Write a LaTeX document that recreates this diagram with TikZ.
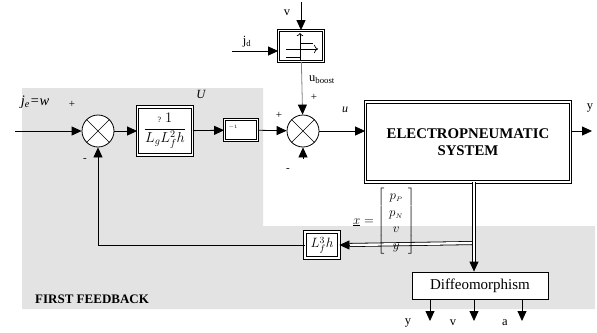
\RequirePackage{fix-cm}
\documentclass[tikz,border=0pt]{standalone}
\usepackage{fontspec}
\setmainfont{Liberation Serif}
\usetikzlibrary{arrows.meta}

\tikzset{
  block/.style={draw, double, double distance=1.8pt, line width=0.8pt, fill=white, inner sep=0pt},
  sumnode/.style={circle, draw, line width=0.8pt, fill=white, minimum size=32pt, inner sep=0pt},
  arr/.style={-{Triangle[length=10pt,width=9pt]}, line width=0.8pt},
  grayarr/.style={-{Triangle[length=10pt,width=9pt,black]}, line width=0.8pt, draw=gray},
  dbl/.style={double, double distance=2.4pt, line width=0.8pt},
  lbl/.style={inner sep=0pt, font=\fontsize{12.5}{14}\selectfont},
  sign/.style={inner sep=0pt, font=\fontsize{11}{13}\selectfont},
}

\begin{document}
\begin{tikzpicture}[x=1pt, y=-1pt]
        \useasboundingbox (0,0) rectangle (597,332);
        % Background
        \fill[gray!22] (22,88) -- (263,88) -- (263,226) -- (595,226) -- (595,309) -- (22,309) -- cycle;

        % Nodes
        \node (sum1) [sumnode] at (98,131) {};
        \node (fracblk) [block, minimum width=55pt, minimum height=48pt, font=\fontsize{14.5}{16}\selectfont] at (165,131) {$\displaystyle\frac{\mbox{\footnotesize ?}\;1}{L_{g}L_{f}^{2}h}$};
        \node (invblk) [block, minimum width=33pt, minimum height=21pt] at (241,130) {};
        \node (invexp) [inner sep=0pt, font=\tiny] at (233,127) {$-1$};
        \node (sum2) [sumnode] at (303,131) {};
        \node (relay) [block, minimum width=45pt, minimum height=31pt] at (301,46) {};
        \node (eps) [block, minimum width=205pt, minimum height=80pt, align=center, font=\fontsize{14.8}{17}\selectfont\bfseries] at (468,142) {ELECTROPNEUMATIC\\SYSTEM};
        \node (fbk) [block, minimum width=34pt, minimum height=26pt, font=\fontsize{13.5}{15}\selectfont] at (322,245) {$L_{f}^{3}h$\hspace{9pt}};
        \node (diffeo) [draw, line width=0.8pt, fill=white, minimum width=136pt, minimum height=27pt, font=\fontsize{15}{17}\selectfont] at (480,285.5) {Diffeomorphism};

        \coordinate (in) at (15,131);
        \coordinate (out) at (592,131);
        \coordinate (vin) at (301,2);
        \coordinate (jdin) at (232,51);
        \coordinate (minus2) at (303,159);
        \coordinate (split) at (474,243);
        \coordinate (oy) at (430,321);
        \coordinate (ov) at (474,321);
        \coordinate (oa) at (522,321);

        % Labels
        \node (je) [inner sep=0pt, font=\fontsize{14.5}{16}\selectfont\itshape] at (35,102) {j\textsubscript{e}=w};
        \node (p1) [sign] at (72,104) {+};
        \node (m1) [sign] at (85,160) {-};
        \node (ulab) [inner sep=0pt, font=\fontsize{12.5}{14}\selectfont\itshape] at (201,94) {U};
        \node (p2) [sign] at (279,115) {+};
        \node (m2) [sign] at (288,170) {-};
        \node (vlab) [lbl] at (287,13) {v};
        \node (jdlab) [lbl] at (247,42) {j\textsubscript{d}};
        \node (ublab) [lbl, anchor=west] at (309,80) {u\textsubscript{boost}};
        \node (p3) [sign] at (314,97) {+};
        \node (uin) [inner sep=0pt, font=\fontsize{12}{14}\selectfont\itshape] at (345,110) {u};
        \node (ylab) [lbl] at (590,108) {y};
        \node (first) [anchor=west, inner sep=0pt, font=\fontsize{13}{15}\selectfont\bfseries] at (35,299) {FIRST FEEDBACK};
        \node (yout) [lbl] at (408,323) {y};
        \node (vout) [lbl] at (453,323) {v};
        \node (aout) [lbl] at (505,323) {a};

        % Edges
        \draw[arr] (in) -- (sum1);
        \draw[arr] (sum1) -- (fracblk);
        \draw[arr] (fracblk) -- (invblk);
        \draw[arr] (invblk) -- (sum2);
        \draw[arr] (sum2) -- (sum2 -| eps.west);
        \draw[arr] (sum2 -| eps.east) -- (out);
        \draw[arr] (vin) -- (relay);
        \draw[arr] (jdin) -- (jdin -| relay.west);
        \draw[grayarr] (relay) -- (sum2);
        \draw[arr] (minus2) -- (sum2);
        \draw[arr] (fbk) -| (sum1);
        \draw (sum1.north west) -- (sum1.south east) (sum1.north east) -- (sum1.south west);
        \draw (sum2.north west) -- (sum2.south east) (sum2.north east) -- (sum2.south west);

        % State vector
        \draw[dbl] (split) -- ([xshift=10pt]fbk.east);
        \draw[arr] ([xshift=10pt]fbk.east) -- (fbk.east);
        \draw[dbl] (eps.south -| split) -- ([yshift=10pt]diffeo.north -| split);
        \draw[arr] ([yshift=10pt]diffeo.north -| split) -- (diffeo.north -| split);
        \node (xvec) [anchor=west, inner sep=0pt, font=\fontsize{13}{15}\selectfont] at (353,221) {\renewcommand{\arraystretch}{1.1}$\underline{x}=\left[\begin{array}{c} p_{\scriptscriptstyle P}\\ p_{\scriptscriptstyle N}\\ v\\ y \end{array}\right]$};

        % Outputs
        \draw[arr] (diffeo.south -| oy) -- (oy);
        \draw[arr] (diffeo.south -| ov) -- (ov);
        \draw[arr] (diffeo.south -| oa) -- (oa);

        % Relay symbol
        \begin{scope}[shift={(relay.center)}, line width=0.7pt]
          \draw[-{To[length=3pt]}] (-1,14) -- (-1,-13);
          \draw[-{To[length=4pt]}] (-15,3) -- (17,3);
          \draw (-1,-3) -- (12,-3);
          \draw (-15,11) -- (-1,11);
        \end{scope}
\end{tikzpicture}
\end{document}
